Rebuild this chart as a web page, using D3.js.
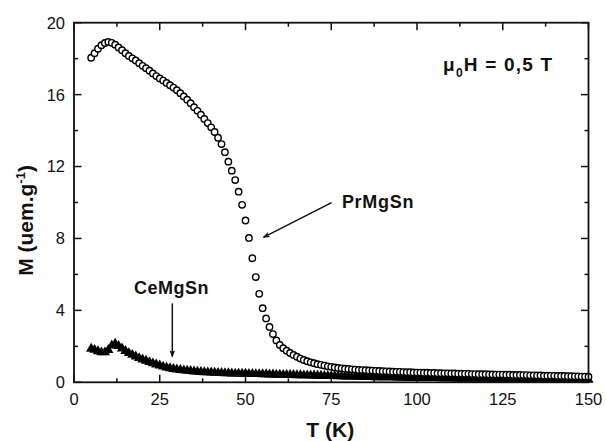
<!DOCTYPE html>
<head>
  <meta charset="utf-8">
  <script src="https://d3js.org/d3.v7.min.js"></script>
  <style>
    body { margin:0; background:#fff; }
    svg { display:block; }
    .tick-label { font-family: "Liberation Sans", Arial, sans-serif; font-size: 16.5px; fill: #111; }
    .axis-title { font-family: "Liberation Sans", Arial, sans-serif; font-size: 21px; font-weight: bold; fill: #111; }
    .note { font-family: "Liberation Sans", Arial, sans-serif; font-weight: bold; fill: #111; }
    .frame { fill: none; stroke: #111; stroke-width: 1.8; }
    .tick { stroke: #111; stroke-width: 1.5; }
    .arrow { stroke: #111; stroke-width: 1.5; fill: none; }
  </style>
</head>

<body>
  <script>
    // temperature grid, K
    var temps = [
      5, 6, 7, 8, 9, 10, 11, 12, 13, 14, 15, 16, 17, 18, 19, 20, 21, 22, 23, 24,
      25, 26, 27, 28, 29, 30, 31, 32, 33, 34, 35, 36, 37, 38, 39, 40, 41, 42, 43, 44,
      45, 46, 47, 48, 49, 50, 51, 52, 53, 54, 55, 56, 57, 58, 59, 60, 61, 62, 63, 64,
      65, 66, 67, 68, 69, 70, 71, 72, 73, 74, 75, 76, 77, 78, 79, 80, 81, 82, 83, 84,
      85, 86, 87, 88, 89, 90, 91, 92, 93, 94, 95, 96, 97, 98, 99, 100, 101, 102, 103, 104,
      105, 106, 107, 108, 109, 110, 111, 112, 113, 114, 115, 116, 117, 118, 119, 120, 121, 122, 123, 124,
      125, 126, 127, 128, 129, 130, 131, 132, 133, 134, 135, 136, 137, 138, 139, 140, 141, 142, 143, 144,
      145, 146, 147, 148, 149, 150
    ];

    // PrMgSn magnetisation, uem/g (open circles)
    var prMgSn = [
      18.05, 18.3, 18.55, 18.75, 18.87, 18.93, 18.88, 18.78, 18.62, 18.47, 18.3, 18.15, 18.02, 17.9, 17.75, 17.6, 17.47, 17.33, 17.18, 17.03,
      16.9, 16.78, 16.65, 16.52, 16.39, 16.25, 16.08, 15.9, 15.72, 15.52, 15.3, 15.1, 14.88, 14.65, 14.42, 14.18, 13.92, 13.6, 13.25, 12.8,
      12.27, 11.77, 11.25, 10.6, 9.87, 9.0, 8.03, 6.9, 5.85, 4.92, 4.12, 3.55, 3.08, 2.68, 2.33, 2.08, 1.9, 1.76, 1.63, 1.52,
      1.42, 1.32, 1.24, 1.17, 1.11, 1.06, 1.01, 0.97, 0.93, 0.89, 0.86, 0.83, 0.8, 0.78, 0.76, 0.74, 0.72, 0.71, 0.69, 0.68,
      0.67, 0.66, 0.65, 0.64, 0.63, 0.62, 0.61, 0.6, 0.59, 0.58, 0.58, 0.57, 0.56, 0.56, 0.55, 0.54, 0.54, 0.53, 0.53, 0.52,
      0.52, 0.51, 0.51, 0.5, 0.5, 0.49, 0.49, 0.48, 0.48, 0.47, 0.47, 0.46, 0.46, 0.45, 0.45, 0.45, 0.44, 0.44, 0.43, 0.43,
      0.43, 0.42, 0.42, 0.41, 0.41, 0.41, 0.4, 0.4, 0.39, 0.39, 0.38, 0.38, 0.37, 0.37, 0.36, 0.36, 0.35, 0.35, 0.35, 0.34,
      0.34, 0.33, 0.33, 0.32, 0.32, 0.31
    ];

    // CeMgSn magnetisation, uem/g (filled triangles)
    var ceMgSn = [
      1.92, 1.86, 1.78, 1.72, 1.72, 1.85, 2.1, 2.2, 2.08, 1.94, 1.8, 1.68, 1.58, 1.49, 1.4, 1.32, 1.25, 1.18, 1.11, 1.05,
      0.99, 0.93, 0.88, 0.84, 0.8, 0.77, 0.74, 0.72, 0.7, 0.68, 0.66, 0.65, 0.63, 0.62, 0.61, 0.6, 0.59, 0.58, 0.57, 0.56,
      0.56, 0.55, 0.54, 0.54, 0.53, 0.53, 0.52, 0.52, 0.51, 0.51, 0.5, 0.5, 0.49, 0.49, 0.48, 0.48, 0.47, 0.47, 0.46, 0.46,
      0.45, 0.45, 0.44, 0.44, 0.43, 0.43, 0.42, 0.42, 0.41, 0.41, 0.4, 0.4, 0.39, 0.39, 0.38, 0.38, 0.37, 0.37, 0.36, 0.36,
      0.35, 0.35, 0.35, 0.34, 0.34, 0.34, 0.33, 0.33, 0.33, 0.32, 0.32, 0.32, 0.31, 0.31, 0.31, 0.3, 0.3, 0.3, 0.29, 0.29,
      0.29, 0.29, 0.28, 0.28, 0.28, 0.28, 0.27, 0.27, 0.27, 0.27, 0.26, 0.26, 0.26, 0.26, 0.25, 0.25, 0.25, 0.25, 0.24, 0.24,
      0.24, 0.24, 0.24, 0.23, 0.23, 0.23, 0.23, 0.23, 0.22, 0.22, 0.22, 0.22, 0.22, 0.21, 0.21, 0.21, 0.21, 0.21, 0.2, 0.2,
      0.2, 0.2, 0.2, 0.2, 0.19, 0.19
    ];

    var xTicks = [0, 25, 50, 75, 100, 125, 150];
    var xMinorTicks = [12.5, 37.5, 62.5, 87.5, 112.5, 137.5];
    var yTicks = [0, 4, 8, 12, 16, 20];
    var yMinorTicks = [2, 6, 10, 14, 18];

    var margin = {top: 22.7, right: 17.5, bottom: 58.7, left: 74};
    var W = 606, H = 441;
    var width = W - margin.left - margin.right,
        height = H - margin.top - margin.bottom;

    var svg = d3.select("body").append("svg")
        .attr("width", W)
        .attr("height", H)
      .append("g")
        .attr("transform", "translate(" + margin.left + "," + margin.top + ")");

    var x = d3.scaleLinear().domain([0, 150]).range([0, width]);
    var y = d3.scaleLinear().domain([0, 20]).range([height, 0]);

    var majorLen = 7.5, minorLen = 4;

    // inward ticks on all four sides
    function ticks(vals, len) {
      vals.forEach(function(v) {
        svg.append("line").attr("class", "tick")
          .attr("x1", x(v)).attr("x2", x(v)).attr("y1", height).attr("y2", height - len);
        svg.append("line").attr("class", "tick")
          .attr("x1", x(v)).attr("x2", x(v)).attr("y1", 0).attr("y2", len);
      });
    }
    function yticks(vals, len) {
      vals.forEach(function(v) {
        svg.append("line").attr("class", "tick")
          .attr("x1", 0).attr("x2", len).attr("y1", y(v)).attr("y2", y(v));
        svg.append("line").attr("class", "tick")
          .attr("x1", width).attr("x2", width - len).attr("y1", y(v)).attr("y2", y(v));
      });
    }
    ticks(xTicks, majorLen);
    ticks(xMinorTicks, minorLen);
    yticks(yTicks, majorLen);
    yticks(yMinorTicks, minorLen);

    svg.selectAll(".xlab")
      .data(xTicks)
    .enter().append("text")
      .attr("class", "tick-label")
      .attr("x", function(d) { return x(d); })
      .attr("y", height + 23)
      .attr("text-anchor", "middle")
      .text(function(d) { return d; });

    svg.selectAll(".ylab")
      .data(yTicks)
    .enter().append("text")
      .attr("class", "tick-label")
      .attr("x", -9)
      .attr("y", function(d) { return y(d); })
      .attr("dy", "0.36em")
      .attr("text-anchor", "end")
      .text(function(d) { return d; });

    // data: triangles first, circles on top
    var pts = temps.map(function(t, i) { return {t: t, pr: prMgSn[i], ce: ceMgSn[i]}; });

    var tri = d3.symbol().type(d3.symbolTriangle).size(46);
    svg.append("g").selectAll("path")
      .data(pts)
    .enter().append("path")
      .attr("d", tri)
      .attr("transform", function(d) { return "translate(" + x(d.t) + "," + (y(d.ce) + 1) + ")"; })
      .attr("fill", "#000");

    svg.append("g").selectAll("circle")
      .data(pts)
    .enter().append("circle")
      .attr("cx", function(d) { return x(d.t); })
      .attr("cy", function(d) { return y(d.pr); })
      .attr("r", 3.2)
      .attr("fill", "#fff")
      .attr("stroke", "#000")
      .attr("stroke-width", 1.4);

    svg.append("rect")
      .attr("class", "frame")
      .attr("width", width)
      .attr("height", height);

    // arrows
    var defs = svg.append("defs");
    defs.append("marker")
      .attr("id", "head")
      .attr("viewBox", "0 0 10 10")
      .attr("refX", 9).attr("refY", 5)
      .attr("markerWidth", 7).attr("markerHeight", 7)
      .attr("markerUnits", "userSpaceOnUse")
      .attr("orient", "auto")
      .append("path")
      .attr("d", "M0,1 L10,5 L0,9 L2,5 Z")
      .attr("fill", "#111");

    var arrows = [
      {from: [75.1, 9.99], to: [55.2, 8.06]},
      {from: [28.66, 4.39], to: [28.66, 1.42]}
    ];
    arrows.forEach(function(a) {
      svg.append("line")
        .attr("class", "arrow")
        .attr("x1", x(a.from[0])).attr("y1", y(a.from[1]))
        .attr("x2", x(a.to[0])).attr("y2", y(a.to[1]))
        .attr("marker-end", "url(#head)");
    });

    svg.append("text")
      .attr("class", "note")
      .attr("x", x(78.1)).attr("y", y(9.72))
      .style("font-size", "18px")
      .style("letter-spacing", "0.7px")
      .text("PrMgSn");

    svg.append("text")
      .attr("class", "note")
      .attr("x", x(17.5)).attr("y", y(4.91))
      .style("font-size", "18px")
      .style("letter-spacing", "0.5px")
      .text("CeMgSn");

    var field = svg.append("text")
      .attr("class", "note")
      .attr("x", x(107.6)).attr("y", y(17.33))
      .style("font-size", "19px")
      .style("letter-spacing", "1.2px");
    field.append("tspan").text("\u03bc");
    field.append("tspan").attr("dy", 6).style("font-size", "12px").text("0");
    field.append("tspan").attr("dy", -6).text("H = 0,5 T");

    // axis titles
    svg.append("text")
      .attr("class", "axis-title")
      .attr("x", width / 2 - 1)
      .attr("y", height + 55)
      .attr("text-anchor", "middle")
      .text("T (K)");

    var yt = svg.append("text")
      .attr("class", "axis-title")
      .attr("transform", "translate(" + (-41) + "," + y(9) + ") rotate(-90)")
      .attr("text-anchor", "middle");
    yt.append("tspan").text("M (uem.g");
    yt.append("tspan").attr("dy", -8).style("font-size", "13px").text("-1");
    yt.append("tspan").attr("dy", 8).text(")");
  </script>
</body>
